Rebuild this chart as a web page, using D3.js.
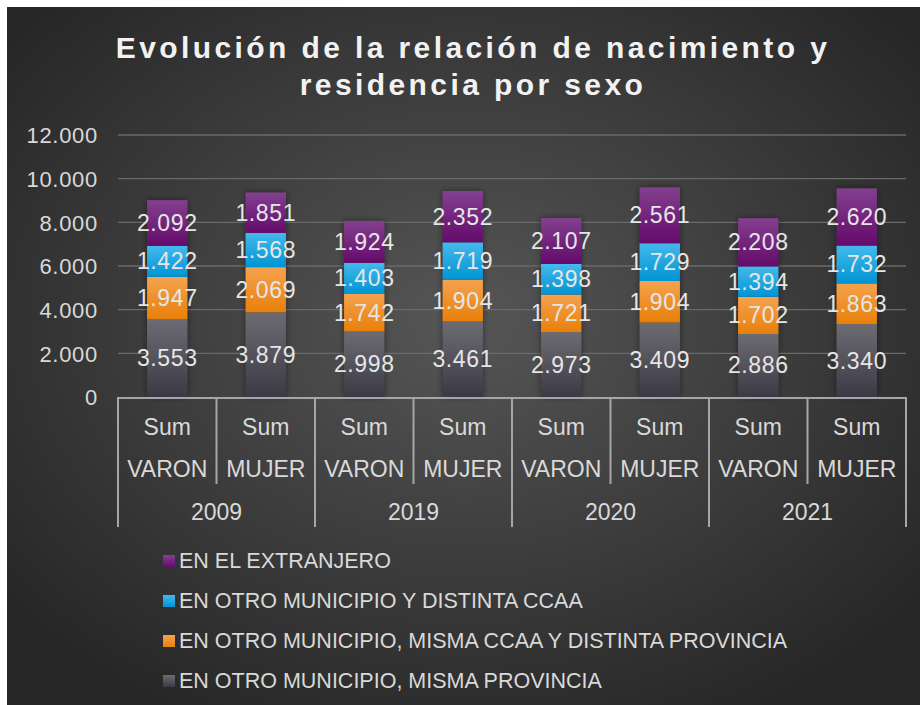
<!DOCTYPE html>
<html><head><meta charset="utf-8">
<script src="https://cdn.jsdelivr.net/npm/d3@7"></script>
<style>html,body{margin:0;padding:0;background:#fff;}svg{display:block;}</style>
</head><body>
<svg id="chart" width="924" height="705"></svg>
<script>
const years = ["2009", "2019", "2020", "2021"];
const sexes = ["VARON", "MUJER"];
const seriesNames = ["EN OTRO MUNICIPIO, MISMA PROVINCIA", "EN OTRO MUNICIPIO, MISMA CCAA Y DISTINTA PROVINCIA", "EN OTRO MUNICIPIO Y DISTINTA CCAA", "EN EL EXTRANJERO"];
const mismaProvincia = [3553, 3879, 2998, 3461, 2973, 3409, 2886, 3340];
const mismaCcaa = [1947, 2069, 1742, 1904, 1721, 1904, 1702, 1863];
const distintaCcaa = [1422, 1568, 1403, 1719, 1398, 1729, 1394, 1732];
const extranjero = [2092, 1851, 1924, 2352, 2107, 2561, 2208, 2620];
const yTicks = [0, 2000, 4000, 6000, 8000, 10000, 12000];
const title = ["Evolución de la relación de nacimiento y", "residencia por sexo"];

const FONT = "Liberation Sans, Arial, sans-serif";
const svg = d3.select("#chart");
const defs = svg.append("defs");
const bg = defs.append("radialGradient").attr("id","bg").attr("cx","50%").attr("cy","45%").attr("r","65%");
bg.append("stop").attr("offset","0%").attr("stop-color","#565656");
bg.append("stop").attr("offset","100%").attr("stop-color","#262626");
const cols = [["#6d6b72","#3b3944"],["#f5a24e","#e8800a"],["#44b9ec","#0094d4"],["#83408f","#650a6c"]];
cols.forEach((c,i)=>{
  const g = defs.append("linearGradient").attr("id","g"+i).attr("x1",0).attr("y1",0).attr("x2",0).attr("y2",1);
  g.append("stop").attr("offset","0%").attr("stop-color",c[0]);
  g.append("stop").attr("offset","100%").attr("stop-color",c[1]);
});
const sh = defs.append("filter").attr("id","sh").attr("x","-30%").attr("y","-10%").attr("width","160%").attr("height","120%");
sh.append("feDropShadow").attr("dx",0).attr("dy",0).attr("stdDeviation",3).attr("flood-color","#000").attr("flood-opacity",0.45);

svg.append("rect").attr("x",7).attr("y",7).attr("width",913).attr("height",698).attr("fill","url(#bg)");

svg.append("text").attr("text-anchor","middle")
  .attr("font-family",FONT).attr("font-weight","bold")
  .attr("font-size",30).attr("letter-spacing",3.4).attr("fill","#f2f2f2")
  .selectAll("tspan").data(title).join("tspan").attr("x",473).attr("y",(d,i)=>58+i*37).text(d=>d);

const left = 118, right = 906, y0 = 397, yTop = 135;
const cats = [];
years.forEach(y=>sexes.forEach(s=>cats.push(y+"|"+s)));
const x = d3.scaleBand().domain(cats).range([left,right]).paddingInner(0.59).paddingOuter(0.295);
const y = d3.scaleLinear().domain([0,12000]).range([y0,yTop]);
const fmt = v => d3.format(",")(v).replace(/,/g,".");

// gridlines
svg.append("g").selectAll("line").data(yTicks.slice(1)).join("line")
  .attr("x1",left).attr("x2",right).attr("y1",d=>y(d)).attr("y2",d=>y(d))
  .attr("stroke","#6a6a6a").attr("stroke-width",1.3);

// y axis labels
const yAxis = d3.axisLeft(y).tickValues(yTicks).tickFormat(fmt).tickSize(0).tickPadding(0);
const ya = svg.append("g").attr("transform",`translate(98,0)`).call(yAxis);
ya.select(".domain").remove();
ya.selectAll("text").attr("font-family",FONT).attr("font-size",22).attr("letter-spacing",0.7).attr("dy","0.36em").attr("fill","#d9d9d9");

// stack
const rows = cats.map((c,i)=>({cat:c, s0:mismaProvincia[i], s1:mismaCcaa[i], s2:distintaCcaa[i], s3:extranjero[i]}));
const stack = d3.stack().keys(["s0","s1","s2","s3"])(rows);

// bar shadows
svg.append("g").selectAll("rect").data(rows).join("rect")
  .attr("x",d=>x(d.cat)).attr("width",x.bandwidth())
  .attr("y",d=>y(d.s0+d.s1+d.s2+d.s3)).attr("height",d=>y0-y(d.s0+d.s1+d.s2+d.s3))
  .attr("fill","#333").attr("filter","url(#sh)");

stack.forEach((layer,li)=>{
  const g = svg.append("g");
  g.selectAll("rect").data(layer).join("rect")
    .attr("x",d=>x(d.data.cat)).attr("width",x.bandwidth())
    .attr("y",d=>y(d[1])).attr("height",d=>y(d[0])-y(d[1]))
    .attr("fill","url(#g"+li+")");
});
stack.forEach((layer,li)=>{
  svg.append("g").selectAll("text").data(layer).join("text")
    .attr("x",d=>x(d.data.cat)+x.bandwidth()/2)
    .attr("y",d=>(y(d[0])+y(d[1]))/2+8)
    .attr("text-anchor","middle")
    .attr("font-family",FONT).attr("font-size",23).attr("letter-spacing",0.6)
    .attr("fill","#e6e6e6")
    .text(d=>fmt(d[1]-d[0]));
});

// x axis (multi-level)
const ax = svg.append("g").attr("stroke","#a6a6a6").attr("stroke-width",2);
ax.append("line").attr("x1",left).attr("x2",right).attr("y1",y0+1).attr("y2",y0+1);
const step = x.step();
cats.forEach((c,i)=>{
  const xe = left + i*step;
  ax.append("line").attr("x1",xe).attr("x2",xe).attr("y1",y0).attr("y2", i%2===0 ? 527 : 484);
});
ax.append("line").attr("x1",right).attr("x2",right).attr("y1",y0).attr("y2",527);

const lab = svg.append("g").attr("font-family",FONT).attr("font-size",23).attr("fill","#d9d9d9").attr("text-anchor","middle");
cats.forEach((c,i)=>{
  const cx = x(c)+x.bandwidth()/2;
  const s = c.split("|")[1];
  lab.append("text").attr("x",cx).attr("y",435).text("Sum");
  lab.append("text").attr("x",cx).attr("y",477).text(s);
});
years.forEach((yr,i)=>{
  const cx = left + (i*2+1)*step;
  lab.append("text").attr("x",cx).attr("y",520).text(yr);
});

// legend
const legendOrder = [3,2,1,0];
const lg = svg.append("g");
legendOrder.forEach((si,k)=>{
  const ly = 568 + k*40;
  lg.append("rect").attr("x",163).attr("y",ly-13).attr("width",12).attr("height",12).attr("fill","url(#g"+si+")");
  lg.append("text").attr("x",179).attr("y",ly).attr("font-family",FONT)
    .attr("font-size",21.5).attr("fill","#d9d9d9").text(seriesNames[si]);
});
</script>
</body></html>
